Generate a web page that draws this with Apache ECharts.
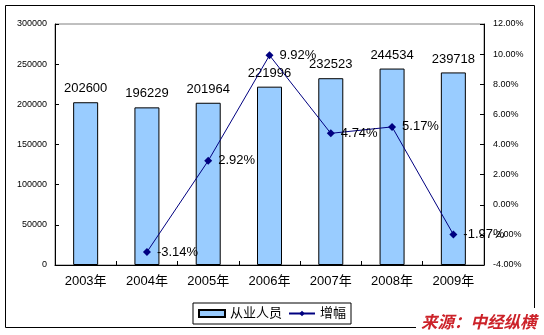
<!DOCTYPE html>
<html>
<head>
<meta charset="utf-8">
<script src="https://cdn.jsdelivr.net/npm/echarts@6/dist/echarts.min.js"></script>
<style>
  html, body { margin: 0; padding: 0; background: #fff; }
  #chart { width: 544px; height: 335px; }
</style>
</head>
<body>
<div id="chart"></div>
<script>
// Years on the category axis
const years = ['2003年', '2004年', '2005年', '2006年', '2007年', '2008年', '2009年'];
// Number of employees (bars, left axis)
const staff = [202600, 196229, 201964, 221996, 232523, 244534, 239718];
// Year-on-year growth in percent (line, right axis); no value for the first year
const growth = [null, -3.14, 2.92, 9.92, 4.74, 5.17, -1.97];

const FONT = '"Liberation Sans", Arial, "Noto Sans CJK SC", sans-serif';

const chart = echarts.init(document.getElementById('chart'), null, { renderer: 'canvas' });

chart.setOption({
  animation: false,
  backgroundColor: '#ffffff',
  textStyle: { fontFamily: FONT, color: '#000' },
  grid: {
    left: 55, right: 60, top: 24, bottom: 70,
    show: true, borderColor: '#808080', borderWidth: 1,
    backgroundColor: 'transparent'
  },
  legend: {
    left: 193, top: 303,
    padding: [4, 5, 4, 5],
    itemGap: 6,
    itemWidth: 26,
    itemHeight: 7,
    borderColor: '#000', borderWidth: 1,
    textStyle: { fontSize: 13, color: '#000', fontFamily: FONT },
    data: [
      { name: '从业人员', icon: 'rect' },
      { name: '增幅' }
    ]
  },
  xAxis: {
    type: 'category',
    data: years,
    boundaryGap: true,
    axisLine: { lineStyle: { color: '#000', width: 1 } },
    axisTick: { show: true, inside: true, length: 4, lineStyle: { color: '#000' } },
    axisLabel: { fontSize: 13, color: '#000', margin: 10, fontFamily: FONT },
    splitLine: { show: false }
  },
  yAxis: [
    {
      type: 'value', min: 0, max: 300000, interval: 50000,
      axisLine: { show: true, lineStyle: { color: '#000', width: 1 } },
      axisTick: { show: true, inside: true, length: 4, lineStyle: { color: '#000' } },
      axisLabel: {
        fontSize: 9, color: '#000', margin: 8, fontFamily: FONT,
        formatter: v => String(v)
      },
      splitLine: { show: false }
    },
    {
      type: 'value', min: -4, max: 12, interval: 2, position: 'right',
      axisLine: { show: true, lineStyle: { color: '#000', width: 1 } },
      axisTick: { show: true, inside: true, length: 4, lineStyle: { color: '#000' } },
      axisLabel: {
        fontSize: 9, color: '#000', margin: 9, fontFamily: FONT,
        formatter: v => v.toFixed(2) + '%'
      },
      splitLine: { show: false }
    }
  ],
  series: [
    {
      name: '从业人员',
      type: 'bar',
      yAxisIndex: 0,
      data: staff,
      barWidth: 25,
      itemStyle: { color: '#99CCFF', borderColor: '#000', borderWidth: 1 },
      label: {
        show: true, position: 'top', distance: 7,
        fontSize: 13, color: '#000', fontFamily: FONT
      },
      z: 2
    },
    {
      name: '增幅',
      type: 'line',
      yAxisIndex: 1,
      data: growth,
      connectNulls: false,
      symbol: 'diamond',
      symbolSize: 8,
      lineStyle: { color: '#000080', width: 1 },
      itemStyle: { color: '#000080' },
      label: {
        show: true, position: 'right', distance: 6,
        fontSize: 13, color: '#000', fontFamily: FONT,
        formatter: p => p.value.toFixed(2) + '%'
      },
      z: 3
    }
  ],
  graphic: [
    {
      type: 'rect', z: 0, silent: true,
      shape: { x: 5.5, y: 5.5, width: 529, height: 322 },
      style: { fill: 'none', stroke: '#000', lineWidth: 1 }
    },
    {
      type: 'rect', z: 10, silent: true,
      shape: { x: 416, y: 308, width: 128, height: 27 },
      style: { fill: '#fff' }
    },
    {
      type: 'text', z: 11, silent: true,
      left: 421, top: 313,
      style: {
        text: '来源：中经纵横',
        fill: '#CC2229',
        font: 'italic bold 16.5px "Noto Sans CJK SC", sans-serif'
      }
    }
  ]
});
</script>
</body>
</html>
